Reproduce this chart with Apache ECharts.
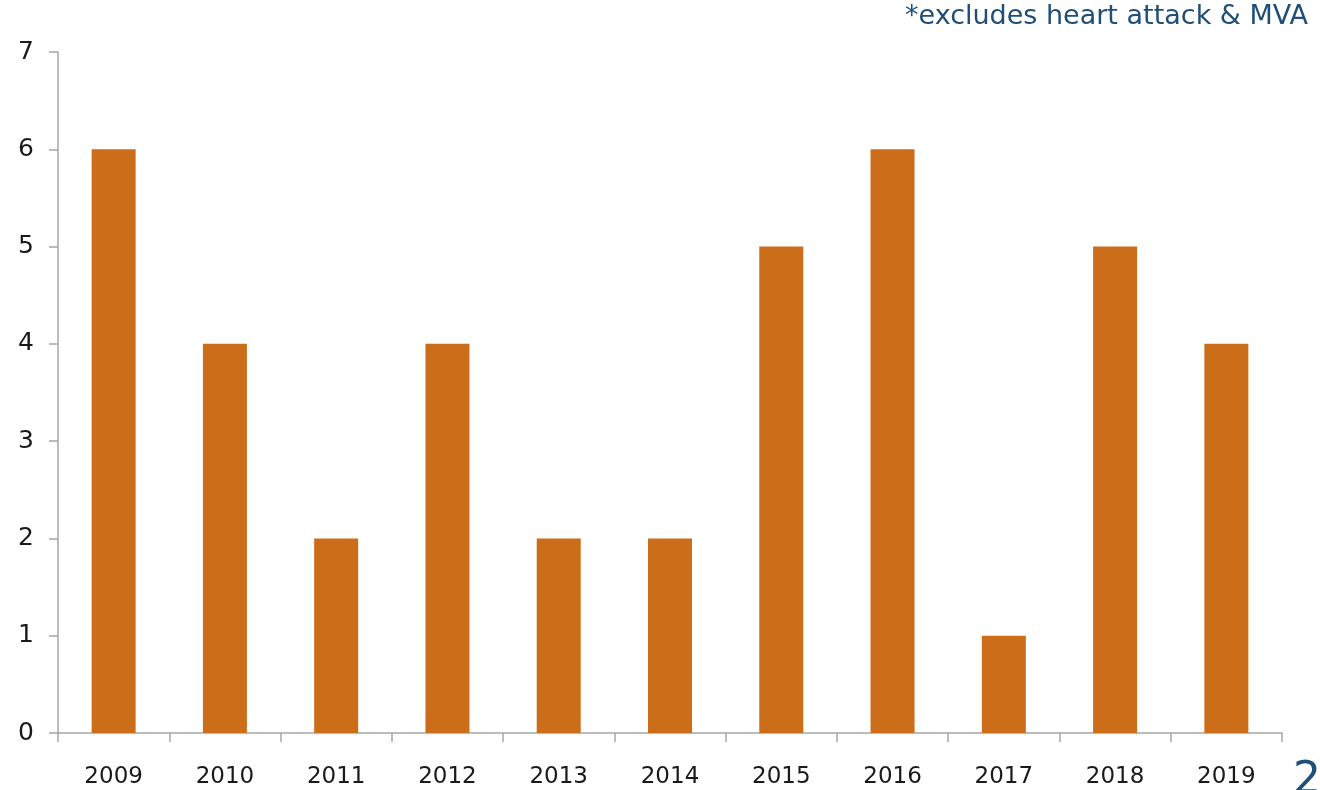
<!DOCTYPE html>
<html>
<head>
<meta charset="utf-8">
<script src="https://cdn.jsdelivr.net/npm/echarts@6/dist/echarts.min.js"></script>
<style>
  html, body { margin: 0; padding: 0; background: #fff; }
  #chart { width: 1320px; height: 790px; }
</style>
</head>
<body>
<div id="chart"></div>
<script>
// 年份与数量
const years = ['2009', '2010', '2011', '2012', '2013', '2014', '2015', '2016', '2017', '2018', '2019'];
const counts = [6, 4, 2, 4, 2, 2, 5, 6, 1, 5, 4];
const noteText = '*excludes heart attack & MVA';
const pageNo = '2';

const chart = echarts.init(document.getElementById('chart'));

const option = {
    animation: false,
    textStyle: { fontFamily: 'DejaVu Sans' },
    graphic: [
        {
            type: 'text',
            right: 12,
            top: 3,
            style: { text: noteText, fill: '#1F4E79', font: '27px "DejaVu Sans"' }
        },
        {
            type: 'text',
            left: 1293,
            top: 760,
            style: { text: pageNo, fill: '#1F4E79', font: '44px "DejaVu Sans"' }
        }
    ],
    grid: { left: 58, right: 38, top: 52, bottom: 57 },
    xAxis: {
        type: 'category',
        data: years,
        axisLine: { lineStyle: { color: '#A6A6A6', width: 1.5 } },
        axisTick: { show: true, length: 9, lineStyle: { color: '#A6A6A6', width: 1.5 } },
        axisLabel: { color: '#1a1a1a', fontSize: 23, fontFamily: 'DejaVu Sans', margin: 33 }
    },
    yAxis: {
        type: 'value',
        min: 0,
        max: 7,
        interval: 1,
        splitLine: { show: false },
        axisLine: { show: true, lineStyle: { color: '#A6A6A6', width: 1.5 } },
        axisTick: { show: true, length: 9, lineStyle: { color: '#A6A6A6', width: 1.5 } },
        axisLabel: { color: '#1a1a1a', fontSize: 25, fontFamily: 'DejaVu Sans', margin: 24 }
    },
    series: [{
        type: 'bar',
        data: counts,
        barWidth: 44,
        itemStyle: { color: '#CB6D19' }
    }]
};

chart.setOption(option);
</script>
</body>
</html>
